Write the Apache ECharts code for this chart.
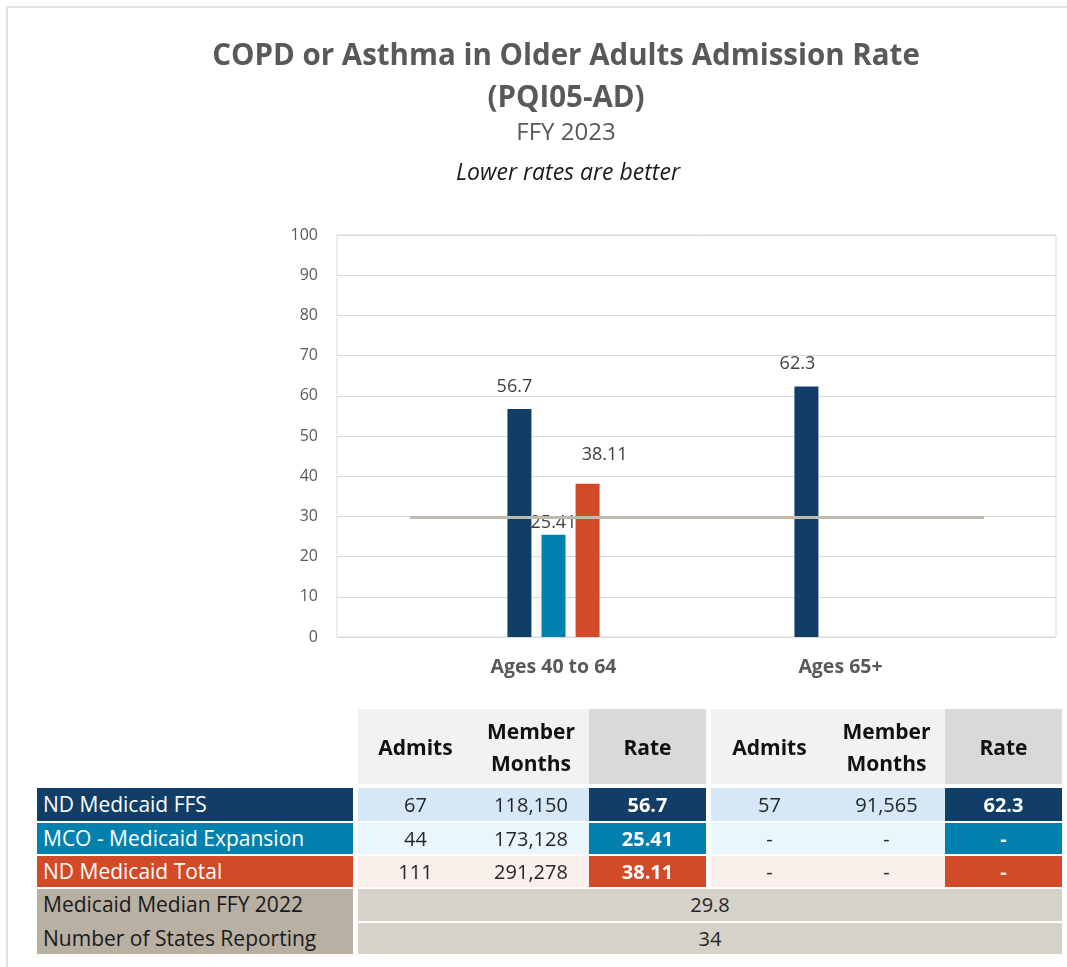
<!DOCTYPE html>
<html>
<head>
<meta charset="utf-8">
<script src="https://cdn.jsdelivr.net/npm/echarts@6/dist/echarts.min.js"></script>
<style>
  html, body { margin: 0; padding: 0; background: #fff; }
  #wrap { position: relative; width: 1067px; height: 967px; overflow: hidden; font-family: "Open Sans", "Noto Sans", sans-serif; }
  #chart { position: absolute; left: 0; top: 0; width: 1067px; height: 967px; }
  #frame { position: absolute; left: 6px; top: 6px; width: 1100px; height: 1000px; border-left: 2px solid #E3E1DC; border-top: 2px solid #E3E1DC; box-sizing: border-box; pointer-events: none; }
  .cell { position: absolute; box-sizing: border-box; display: flex; align-items: center; justify-content: center; text-align: center; color: #262626; font-size: 20px; line-height: 1.2; white-space: pre; }
  .hdr { font-weight: bold; color: #111; font-size: 21px; line-height: 32px; }
  .lbl { justify-content: flex-start; padding-left: 6px; font-size: 21px; }
</style>
</head>
<body>
<div id="wrap">
  <div id="chart"></div>
  <div id="frame"></div>
  <div id="table"></div>
</div>
<script>
// ---------------- DATA ----------------
const categories = ['Ages 40 to 64', 'Ages 65+'];
const seriesNames = ['ND Medicaid FFS', 'MCO - Medicaid Expansion', 'ND Medicaid Total'];
const ffsRates = [56.7, 62.3];
const mcoRates = [25.41, null];
const totalRates = [38.11, null];
const medianRate = 29.8;
const medianLabel = 'Medicaid Median FFY 2022';
const statesReporting = 34;
const statesLabel = 'Number of States Reporting';
const yMin = 0, yMax = 100, yInterval = 10;
const tableHeaders = ['Admits', 'Member\nMonths', 'Rate'];
const admits40to64 = ['67', '44', '111'];
const memberMonths40to64 = ['118,150', '173,128', '291,278'];
const admits65plus = ['57', '-', '-'];
const memberMonths65plus = ['91,565', '-', '-'];

const titleText = 'COPD or Asthma in Older Adults Admission Rate\n(PQI05-AD)';
const subtitleText = 'FFY 2023';
const noteText = 'Lower rates are better';

// ---------------- STYLE / LAYOUT ----------------
const FONT = '"Open Sans", "Noto Sans", sans-serif';
const seriesColors = ['#113E66', '#0381AE', '#D34A28'];
const rowLightColors = ['#D6E8F7', '#EAF6FD', '#FBEFEC'];
const medianColor = '#BFB9AE';
// per-bar label nudges [series][category] -> {distance, offset}
const labelNudge = [
  [{ d: 13, o: [-5, 0] }, { d: 14, o: [-9, 0] }],
  [{ d: 3, o: [0, 0] }, { d: 5, o: [0, 0] }],
  [{ d: 20, o: [17, 0] }, { d: 5, o: [0, 0] }]
];

const seriesValues = [ffsRates, mcoRates, totalRates];

const chart = echarts.init(document.getElementById('chart'), null, { renderer: 'canvas' });

const barSeries = seriesValues.map((vals, si) => ({
  name: seriesNames[si],
  type: 'bar',
  xAxisIndex: 1,
  yAxisIndex: 1,
  barWidth: 24,
  barGap: '42%',
  itemStyle: { color: seriesColors[si] },
  label: { show: true, position: 'top', fontSize: 18, color: '#404040', fontFamily: FONT },
  data: vals.map((v, ci) => ({
    value: v,
    label: { distance: labelNudge[si][ci].d, offset: labelNudge[si][ci].o }
  })),
  z: 2
}));

const medianSeries = {
  name: medianLabel,
  type: 'line',
  xAxisIndex: 1,
  yAxisIndex: 1,
  data: [],
  z: 5,
  markLine: {
    silent: true,
    symbol: ['none', 'none'],
    label: { show: false },
    lineStyle: { color: medianColor, width: 3, type: 'solid' },
    emphasis: { disabled: true },
    data: [{ yAxis: medianRate }],
    z: 5
  }
};

const option = {
  animation: false,
  title: [
    { text: titleText, left: 561, top: 31, textAlign: 'center',
      textStyle: { fontFamily: FONT, fontSize: 29.5, fontWeight: 'bold', color: '#595959', lineHeight: 42 } },
    { text: subtitleText, left: 561, top: 116, textAlign: 'center',
      textStyle: { fontFamily: FONT, fontSize: 24, fontWeight: 'normal', color: '#595959' } },
    { text: noteText, left: 563, top: 157, textAlign: 'center',
      textStyle: { fontFamily: FONT, fontSize: 23, fontWeight: 'normal', fontStyle: 'italic', color: '#1a1a1a' } }
  ],
  grid: [
    { left: 337, top: 235, width: 719, height: 402, show: true, borderColor: '#D9D9D9', borderWidth: 1, backgroundColor: 'transparent' },
    { left: 410, top: 235, width: 574, height: 402 }
  ],
  xAxis: [
    { type: 'value', gridIndex: 0, show: false, min: 0, max: 1 },
    { type: 'category', gridIndex: 1, data: categories,
      axisLine: { show: false }, axisTick: { show: false }, splitLine: { show: false },
      axisLabel: { margin: 20, fontFamily: FONT, fontSize: 19.5, fontWeight: 'bold', color: '#595959' } }
  ],
  yAxis: [
    { type: 'value', gridIndex: 0, min: yMin, max: yMax, interval: yInterval,
      axisLine: { show: false }, axisTick: { show: false },
      splitLine: { show: true, lineStyle: { color: '#D9D9D9', width: 1 } },
      axisLabel: { margin: 19, fontFamily: FONT, fontSize: 16, color: '#595959' } },
    { type: 'value', gridIndex: 1, min: yMin, max: yMax, interval: yInterval, show: false, splitLine: { show: false } }
  ],
  series: barSeries.concat([medianSeries])
};
chart.setOption(option);

// ---------------- TABLE ----------------
const colX = {
  label: [37, 353],
  g1: [[358, 473], [473, 589], [589, 706]],
  g2: [[711, 828], [828, 945], [945, 1062]]
};
const rowY = { hdr: [709, 784], r: [[788, 821], [823, 854], [856, 887]], r4: [889, 921], r5: [923, 954] };
const tbl = document.getElementById('table');
function cell(x0, x1, y0, y1, text, cls, style) {
  const d = document.createElement('div');
  d.className = 'cell ' + (cls || '');
  d.style.left = x0 + 'px'; d.style.top = y0 + 'px';
  d.style.width = (x1 - x0) + 'px'; d.style.height = (y1 - y0) + 'px';
  Object.assign(d.style, style || {});
  d.textContent = text;
  tbl.appendChild(d);
  return d;
}
const fmt = v => (v === null || v === undefined) ? '-' : String(v);

// header
[colX.g1, colX.g2].forEach(g => {
  g.forEach((c, i) => cell(c[0], c[1], rowY.hdr[0], rowY.hdr[1], tableHeaders[i], 'hdr',
    { background: i === 2 ? '#D9D9D9' : '#F2F2F2' }));
});
// series rows
const groupData = [
  [admits40to64, memberMonths40to64, seriesValues.map(s => fmt(s[0]))],
  [admits65plus, memberMonths65plus, seriesValues.map(s => fmt(s[1]))]
];
seriesNames.forEach((name, ri) => {
  const [y0, y1] = rowY.r[ri];
  cell(colX.label[0], colX.label[1], y0, y1, name, 'lbl', { background: seriesColors[ri], color: '#fff' });
  [colX.g1, colX.g2].forEach((g, gi) => {
    const gd = groupData[gi];
    g.forEach((c, ci) => {
      const isRate = ci === 2;
      cell(c[0], c[1], y0, y1, gd[ci][ri], '', isRate
        ? { background: seriesColors[ri], color: '#fff', fontWeight: 'bold' }
        : { background: rowLightColors[ri] });
    });
  });
});
// median + states
cell(colX.label[0], colX.label[1], rowY.r4[0], rowY.r5[1], '', '', { background: '#B7B0A3' });
cell(colX.label[0], colX.label[1], rowY.r4[0], rowY.r4[1], medianLabel, 'lbl', { color: '#1a1a1a' });
cell(colX.label[0], colX.label[1], rowY.r5[0], rowY.r5[1], statesLabel, 'lbl', { color: '#1a1a1a' });
cell(colX.g1[0][0], colX.g2[2][1], rowY.r4[0], rowY.r4[1], String(medianRate), '', { background: '#D6D1C9' });
cell(colX.g1[0][0], colX.g2[2][1], rowY.r5[0], rowY.r5[1], String(statesReporting), '', { background: '#D6D1C9' });
</script>
</body>
</html>
